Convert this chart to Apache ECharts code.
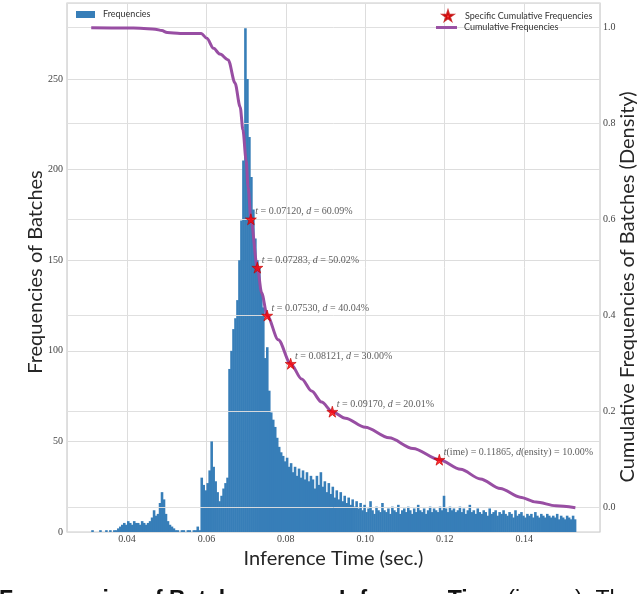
<!DOCTYPE html>
<html>
<head>
<meta charset="utf-8">
<style>
  html, body { margin: 0; padding: 0; background: #fff; }
  #chart { width: 640px; height: 594px; }
</style>
</head>
<body>
<div id="chart"></div>
<script src="https://cdn.jsdelivr.net/npm/echarts@6/dist/echarts.min.js"></script>
<script>
var binStart = 0.031;
var binWidth = 0.0005;
var binCounts = [
  1, 0, 0, 0, 1, 0, 0, 1, 0, 1, 0, 1, 1, 2,
  3, 4, 5, 4, 6, 5, 4, 6, 5, 5, 4, 6, 5, 4,
  5, 6, 8,
  12, 9, 10, 16, 22,
  18, 10, 6, 4,
  3, 2, 1,
  1, 0, 1, 1, 0, 1, 1, 0, 1, 1, 3,
  1,
  30, 26, 23, 27, 34, 50, 36, 28, 22, 17, 20, 24, 27, 30,
  90, 100, 112, 118, 128, 150, 172, 205, 278, 250, 218, 196, 178, 162, 150, 146,
  132, 124, 96, 102, 78, 66, 62, 58, 52, 47, 44, 42, 39, 41, 36, 38,
  33, 36, 31, 35, 30, 34, 29, 33, 28, 31,
  29, 24, 31, 26, 33, 25, 28, 22, 27, 21, 25, 19, 23, 18, 22,
  17, 20, 16, 19, 15, 18, 14, 17, 13, 16,
  12, 15, 11, 13, 17, 12, 10, 14, 12, 11, 16, 12,
  11, 13, 10, 14, 12, 11, 15, 10, 12, 13, 11, 14,
  12, 10, 13, 11, 15, 12, 11, 13, 10, 12, 14, 11,
  13, 12, 11, 14, 12, 20, 13, 11, 14, 12, 13, 11,
  12, 14, 11, 13, 10, 12, 15, 11, 12, 10, 13, 11,
  10, 12, 11, 9, 13, 10, 11, 12, 9, 11, 10, 12,
  10, 9, 11, 10, 8, 12, 9, 10, 11, 9, 8, 10,
  9, 10, 8, 11, 9, 8, 10, 9, 8, 10, 9, 8,
  9, 8, 10, 7, 9, 8, 7, 9, 8, 7, 9, 7
];

var cumTimes = [0.0310, 0.0400, 0.0433, 0.0471, 0.0488, 0.0501, 0.0534, 0.0587, 0.0601, 0.0618,
  0.0634, 0.0655, 0.0672, 0.0685, 0.0692, 0.0700, 0.0705, 0.0712, 0.07283, 0.0739,
  0.0753, 0.0781, 0.08121, 0.0840, 0.0865, 0.0890, 0.0917, 0.0950, 0.1000, 0.1060,
  0.1120, 0.11865, 0.1240, 0.1290, 0.1340, 0.1390, 0.1430, 0.1480, 0.1529];
var cumDensity = [1.000, 0.9995, 0.999, 0.997, 0.994, 0.990, 0.988, 0.988, 0.978, 0.957,
  0.945, 0.933, 0.885, 0.835, 0.787, 0.724, 0.668, 0.6009, 0.5002, 0.448,
  0.4004, 0.350, 0.300, 0.268, 0.243, 0.220, 0.2001, 0.1865, 0.1675, 0.1455,
  0.1235, 0.1000, 0.080, 0.060, 0.040, 0.022, 0.012, 0.004, 0.000];

var markTimes = [0.07120, 0.07283, 0.07530, 0.08121, 0.09170, 0.11865];
var markDensity = [0.6009, 0.5002, 0.4004, 0.3000, 0.2001, 0.1000];

var xTicks = [0.04, 0.06, 0.08, 0.10, 0.12, 0.14];
var freqTicks = [0, 50, 100, 150, 200, 250];
var densTicks = [0.0, 0.2, 0.4, 0.6, 0.8, 1.0];

var blue = '#377eb8';
var purple = '#984ea3';
var red = '#ff0000';
var gridColor = '#dddddd';
var serif = '"Liberation Serif", "DejaVu Serif", serif';
var sans = 'Lato, "Open Sans", sans-serif';
var starPath = 'path://M50,0 L61,35 L98,35 L68,57 L79,91 L50,70 L21,91 L32,57 L2,35 L39,35 Z';
var barPath = 'path://M0,0 L100,0 L100,14 L0,14 Z';

function onTick(list, v) {
  return list.some(function (t) { return Math.abs(t - v) < 1e-6; });
}

var binData = binCounts.map(function (c, i) {
  return [binStart + i * binWidth, c];
});
var cumData = cumTimes.map(function (t, i) { return [t, cumDensity[i]]; });
var markData = markTimes.map(function (t, i) { return [t, markDensity[i]]; });

function renderBin(params, api) {
  var x0 = api.value(0);
  var h = api.value(1);
  var p0 = api.coord([x0, 0]);
  var p1 = api.coord([x0 + binWidth, h]);
  return {
    type: 'rect',
    shape: { x: p0[0], y: p1[1], width: p1[0] - p0[0] + 0.6, height: p0[1] - p1[1] },
    style: { fill: blue }
  };
}

var chart = echarts.init(document.getElementById('chart'), null, { renderer: 'canvas' });
chart.setOption({
  animation: false,
  backgroundColor: '#fff',
  grid: {
    left: 67, right: 40, top: 3, bottom: 62,
    outerBoundsMode: 'none',
    containLabel: false,
    show: true, borderColor: '#cccccc', borderWidth: 1.2
  },
  legend: [{
    data: [{ name: 'Frequencies', icon: 'rect' }],
    left: 71, top: 5,
    itemWidth: 19, itemHeight: 7,
    textStyle: { fontFamily: sans, fontSize: 9, color: '#333', padding: [0, 0, 0, 3] }
  }, {
    data: [{ name: 'Specific Cumulative Frequencies', icon: starPath }],
    left: 437, top: 5,
    itemWidth: 10, itemHeight: 10,
    textStyle: { fontFamily: sans, fontSize: 9, color: '#333', padding: [0, 0, 0, 7] }
  }, {
    data: [{ name: 'Cumulative Frequencies', icon: barPath }],
    left: 431, top: 18,
    itemWidth: 21, itemHeight: 9,
    textStyle: { fontFamily: sans, fontSize: 9, color: '#333', padding: [0, 0, 0, 2] }
  }],
  xAxis: {
    type: 'value',
    min: 0.0249, max: 0.1591,
    splitNumber: 7, minInterval: 0.02, maxInterval: 0.02,
    axisLine: { show: false },
    axisTick: { show: false },
    splitLine: { lineStyle: { color: gridColor, width: 1 } },
    axisLabel: {
      margin: 2, color: '#444', fontFamily: serif, fontSize: 10,
      formatter: function (v) { return onTick(xTicks, v) ? v.toFixed(2) : ''; }
    },
    name: 'Inference Time (sec.)',
    nameLocation: 'middle', nameGap: 9,
    nameTextStyle: { fontFamily: sans, fontSize: 20, color: '#262626' }
  },
  yAxis: [{
    type: 'value',
    min: 0, max: 292, interval: 50,
    axisLine: { show: false },
    axisTick: { show: false },
    splitLine: { lineStyle: { color: gridColor, width: 1 } },
    axisLabel: {
      margin: 4, color: '#444', fontFamily: serif, fontSize: 10,
      formatter: function (v) { return onTick(freqTicks, v) ? String(v) : ''; }
    }
  }, {
    type: 'value',
    position: 'right',
    min: -0.0506, max: 1.0515,
    splitNumber: 5, minInterval: 0.2, maxInterval: 0.2,
    z: 3,
    axisLine: { show: false },
    axisTick: { show: false },
    splitLine: { lineStyle: { color: 'rgba(222,222,222,0.95)', width: 1 } },
    axisLabel: {
      margin: 3, color: '#444', fontFamily: serif, fontSize: 10,
      formatter: function (v) { return onTick(densTicks, v) ? v.toFixed(1) : ''; }
    }
  }],
  series: [{
    name: 'Frequencies',
    type: 'custom',
    renderItem: renderBin,
    xAxisIndex: 0, yAxisIndex: 0,
    encode: { x: 0, y: 1 },
    itemStyle: { color: blue },
    z: 2,
    data: binData
  }, {
    name: 'Cumulative Frequencies',
    type: 'line',
    yAxisIndex: 1,
    symbol: 'none',
    smooth: 0.3,
    smoothMonotone: 'x',
    lineStyle: { color: purple, width: 3 },
    itemStyle: { color: purple },
    z: 4,
    data: cumData
  }, {
    name: 'Specific Cumulative Frequencies',
    type: 'scatter',
    yAxisIndex: 1,
    symbol: starPath,
    symbolSize: 11,
    itemStyle: { color: red, borderColor: '#c00000', borderWidth: 0.8 },
    z: 5,
    label: {
      show: true, position: 'right', distance: 0, offset: [-1.5, -7.5],
      fontFamily: serif, fontSize: 10, color: '#333',
      rich: { i: { fontFamily: serif, fontSize: 10, fontStyle: 'italic', color: '#333' } },
      formatter: function (p) {
        var t = markTimes[p.dataIndex].toFixed(5);
        var d = (markDensity[p.dataIndex] * 100).toFixed(2) + '%';
        if (p.dataIndex === markTimes.length - 1) {
          return '{i|t}(ime) = ' + t + ', {i|d}(ensity) = ' + d;
        }
        return '{i|t} = ' + t + ', {i|d} = ' + d;
      }
    },
    data: markData
  }],
  graphic: [{
    // y titles as rotated text, both read bottom to top
    type: 'text',
    x: 36, y: 272,
    rotation: Math.PI / 2,
    silent: true,
    style: {
      text: 'Frequencies of Batches',
      fontFamily: sans, fontSize: 20, fill: '#262626',
      align: 'center', verticalAlign: 'middle'
    }
  }, {
    type: 'text',
    x: 628, y: 287,
    rotation: Math.PI / 2,
    silent: true,
    style: {
      text: 'Cumulative Frequencies of Batches (Density)',
      fontFamily: sans, fontSize: 20, fill: '#262626',
      align: 'center', verticalAlign: 'middle'
    }
  }, {
    type: 'text',
    left: -1, top: 589,
    silent: true,
    style: {
      text: '{b|Frequencies of Batches} versus {b|Inference Time} (in sec). The',
      fontFamily: '"Liberation Sans", sans-serif', fontSize: 23, fill: '#111',
      rich: {
        b: { fontFamily: '"Liberation Sans", sans-serif', fontSize: 23, fontWeight: 'bold', fill: '#111' }
      }
    }
  }]
});
window.addEventListener('resize', function () { chart.resize(); });
</script>
</body>
</html>
